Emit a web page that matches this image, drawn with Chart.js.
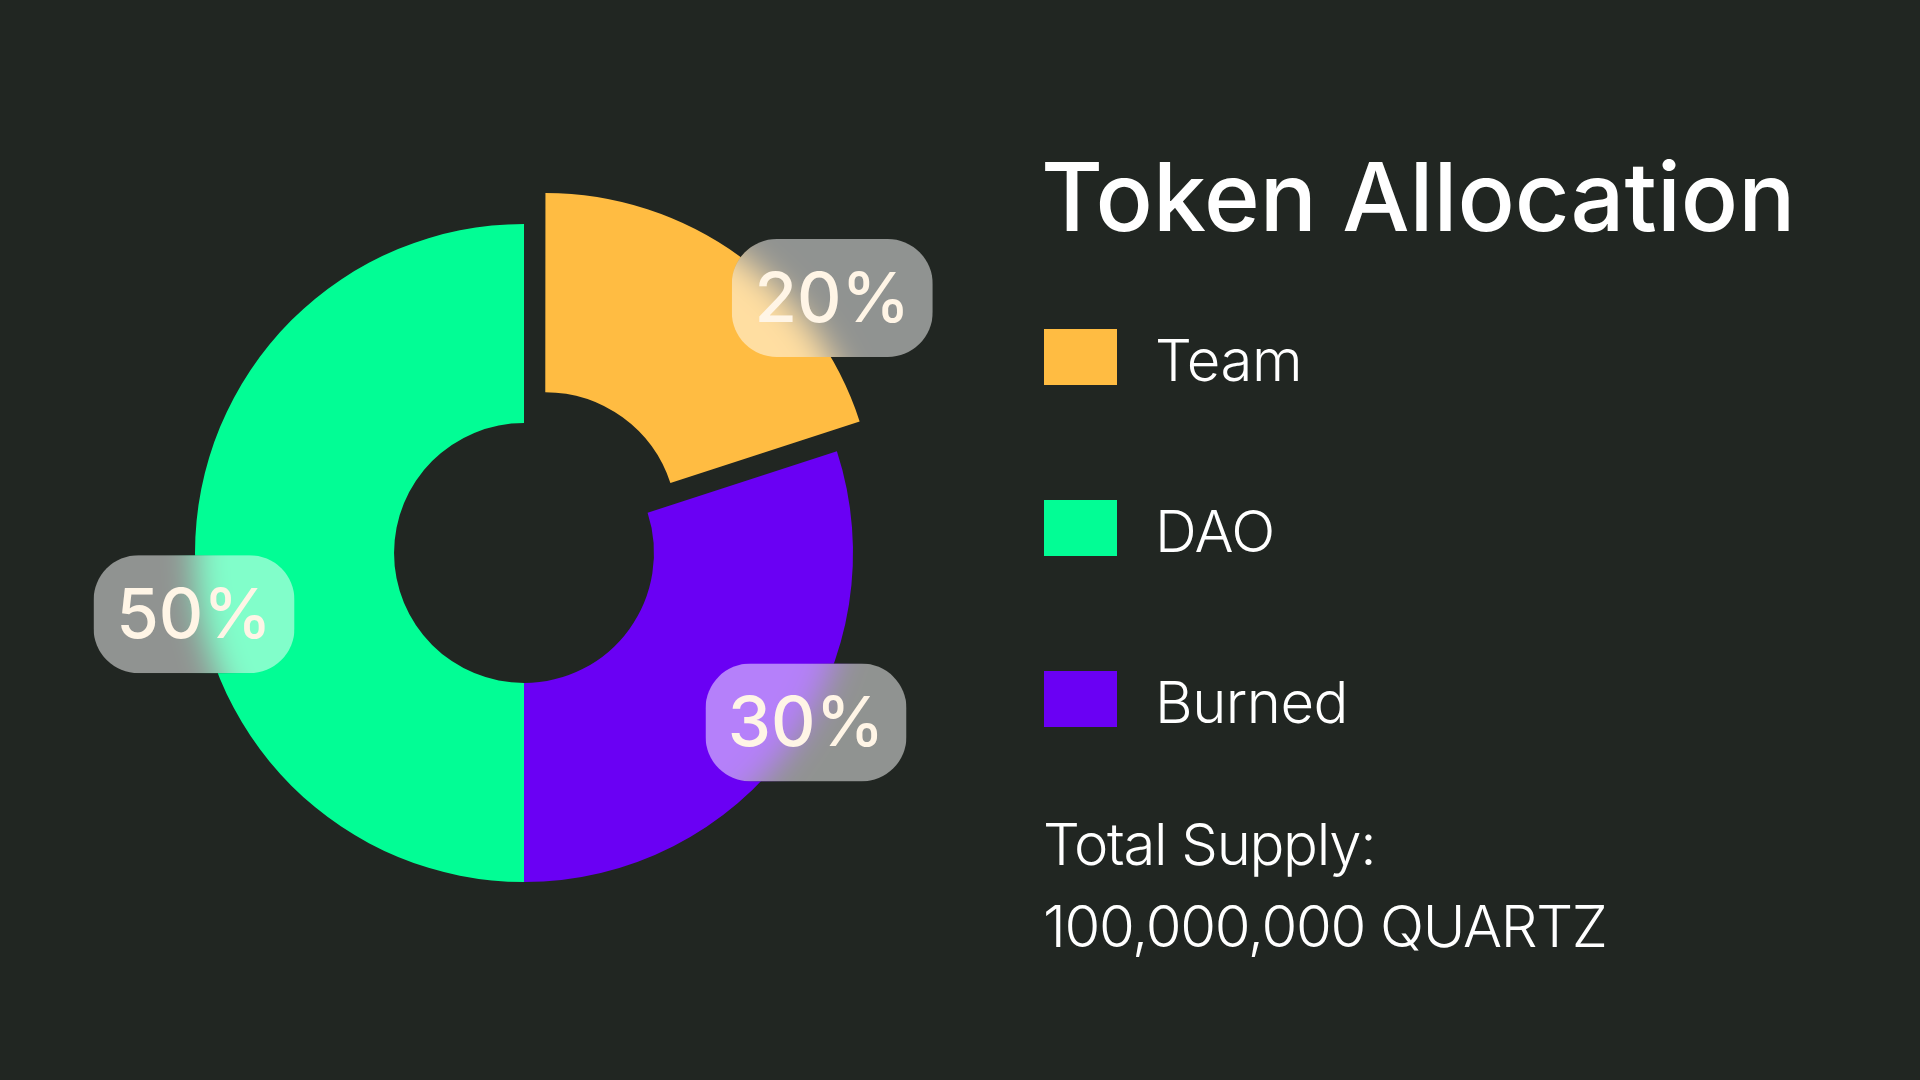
<!DOCTYPE html>
<html>
<head>
<meta charset="utf-8">
<title>Token Allocation</title>
<script src="https://cdn.jsdelivr.net/npm/chart.js@4/dist/chart.umd.min.js"></script>
<style>
  html, body { margin: 0; padding: 0; }
  body {
    width: 1920px; height: 1080px; overflow: hidden;
    background: #212622;
    font-family: Inter, "Noto Sans", sans-serif;
    color: #ffffff;
    position: relative;
  }
  #wrap { position: absolute; left: 0; top: 0; width: 1920px; height: 1080px; }
  .txt { position: absolute; line-height: 1; white-space: nowrap; }
  .swatch { position: absolute; width: 73px; height: 56px; }
</style>
</head>
<body>
<div id="wrap"><canvas id="chart"></canvas></div>
<div id="side"></div>

<script>
// Дані
const categories = ['Team', 'Burned', 'DAO'];
const shares = [20, 30, 50];
const sliceColors = ['#FFBC42', '#6A00F4', '#02FD95'];
const legendOrder = ['Team', 'DAO', 'Burned'];
const titleText = 'Token Allocation';
const supplyLines = ['Total Supply:', '100,000,000 QUARTZ'];

// Де стоять підписи відсотків (кут від верху за годинниковою, відстань у радіусах)
const badgeAngles = [50.4, 121, 259.5];
const badgeDist = [1.216, 1.0, 1.02];

// Права частина: заголовок, легенда, підпис
const side = document.getElementById('side');
function addText(text, left, top, size, weight, spacing) {
    const d = document.createElement('div');
    d.className = 'txt';
    d.textContent = text;
    d.style.left = left + 'px';
    d.style.top = top + 'px';
    d.style.fontSize = size + 'px';
    d.style.fontWeight = weight;
    d.style.letterSpacing = (spacing || 0) + 'px';
    side.appendChild(d);
    return d;
}
addText(titleText, 1041, 149, 95, 500);
legendOrder.forEach((name, i) => {
    const sw = document.createElement('div');
    sw.className = 'swatch';
    sw.style.left = '1044px';
    sw.style.top = (329 + i * 171) + 'px';
    sw.style.background = sliceColors[categories.indexOf(name)];
    side.appendChild(sw);
    addText(name, 1155, 331 + i * 171, 58, 300, -0.5);
});
supplyLines.forEach((line, i) => addText(line, 1043, 815 + i * 82, 58, 300, -1.3));

// Фон на самому canvas, щоб розмиття під підписами було чистим
const bgPlugin = {
    id: 'bg',
    beforeDraw(chart) {
        const c = chart.ctx;
        c.save();
        c.fillStyle = '#212622';
        c.fillRect(0, 0, chart.width, chart.height);
        c.restore();
    }
};

// Скляні бейджі з відсотками
const badgePlugin = {
    id: 'badges',
    afterDraw(chart) {
        const c = chart.ctx;
        const snap = document.createElement('canvas');
        snap.width = chart.canvas.width;
        snap.height = chart.canvas.height;
        snap.getContext('2d').drawImage(chart.canvas, 0, 0);

        const arcs = chart.getDatasetMeta(0).data;
        const total = shares.reduce((a, b) => a + b, 0);
        arcs.forEach((arc, i) => {
            const a = badgeAngles[i] * Math.PI / 180;
            const r = arc.outerRadius * badgeDist[i];
            const cx = arc.x + Math.sin(a) * r;
            const cy = arc.y - Math.cos(a) * r;
            const w = 201, h = 118, rad = 45;
            const x = cx - w / 2, y = cy - h / 2;

            c.save();
            c.beginPath();
            c.roundRect(x, y, w, h, rad);
            c.clip();
            c.filter = 'blur(16px)';
            c.drawImage(snap, 0, 0, chart.width, chart.height);
            c.filter = 'none';
            c.fillStyle = 'rgba(255,255,255,0.5)';
            c.fillRect(x, y, w, h);
            c.fillStyle = '#FFF5E6';
            c.font = '500 69px Inter, "Noto Sans", sans-serif';
            c.textAlign = 'center';
            c.textBaseline = 'middle';
            c.fillText(Math.round(shares[i] / total * 100) + '%', cx, cy + 3);
            c.restore();
        });
    }
};

new Chart(document.getElementById('chart'), {
    type: 'doughnut',
    data: {
        labels: categories,
        datasets: [{
            data: shares,
            backgroundColor: sliceColors,
            borderWidth: 0,
            offset: [144, 0, 0]
        }]
    },
    options: {
        responsive: true,
        maintainAspectRatio: false,
        animation: false,
        radius: 329,
        cutout: '39.5%',
        layout: { padding: { left: 0, right: 872, top: 26, bottom: 0 } },
        plugins: {
            legend: { display: false },
            tooltip: { enabled: false }
        }
    },
    plugins: [bgPlugin, badgePlugin]
});
</script>
</body>
</html>
